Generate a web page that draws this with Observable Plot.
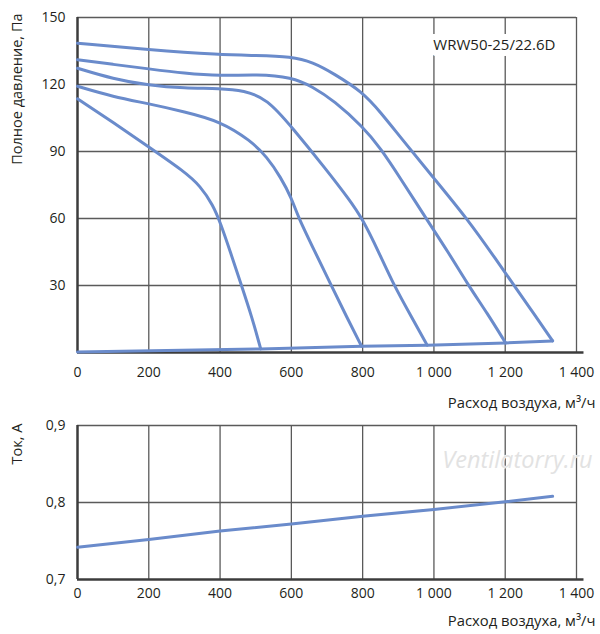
<!DOCTYPE html>
<html>
<head>
<meta charset="utf-8">
<script src="https://cdn.jsdelivr.net/npm/d3@7"></script>
<script src="https://cdn.jsdelivr.net/npm/@observablehq/plot@0.6"></script>
<style>
  html, body { margin: 0; padding: 0; background: #fff; }
  #wrap { position: relative; width: 600px; height: 634px; font-family: "Open Sans", sans-serif; }
  #chartTop, #chartBottom { position: absolute; left: 0; }
  #chartTop { top: 0; }
  #chartBottom { top: 412px; }
</style>
</head>
<body>
<div id="wrap"><div id="chartTop"></div><div id="chartBottom"></div></div>
<script>
// ---- data ----
const xTicks = [0, 200, 400, 600, 800, 1000, 1200, 1400];
const pTicks = [30, 60, 90, 120, 150];
const iTicks = [0.7, 0.8, 0.9];

const q1 = [0, 100, 200, 300, 345, 380, 400, 430, 460, 490, 514];
const p1 = [113.6, 103, 92, 81, 74.5, 66, 58.5, 44.5, 30, 15.5, 1.6];

const q2 = [0, 100, 200, 300, 400, 485, 532, 570, 601, 618, 665, 712, 755, 797];
const p2 = [119.2, 114.5, 111.4, 107.8, 103.6, 95, 87.5, 78.5, 69, 61, 45.5, 30, 16, 2.8];

const q3 = [0, 100, 200, 300, 400, 467, 532, 601, 700, 760, 800, 845, 888, 935, 981];
const p3 = [127.3, 122.5, 119.6, 118.3, 118.3, 117.3, 113.6, 101, 81.5, 69, 59.8, 45, 30, 16.5, 3.3];

const q4 = [0, 100, 200, 300, 400, 504, 601, 660, 719, 802, 850, 906, 978, 1040, 1097, 1150, 1201];
const p4 = [131.1, 129, 127, 125, 123.8, 124.6, 123.3, 119, 112.8, 100.9, 91.5, 78, 60, 45, 30, 17.5, 4.3];

const q5 = [0, 200, 400, 500, 600, 660, 720, 800, 850, 906, 1000, 1093, 1177, 1225, 1280, 1333];
const p5 = [138.5, 135.5, 133.3, 133, 132.5, 130, 124.8, 116.6, 107.6, 96.4, 78, 60, 41, 30, 17.5, 5.2];

const qSys = [0, 514, 797, 981, 1201, 1333];
const pSys = [0.2, 1.6, 2.8, 3.3, 4.3, 5.2];

const qI = [0, 200, 400, 600, 800, 1000, 1200, 1333];
const iVals = [0.742, 0.752, 0.763, 0.772, 0.782, 0.791, 0.801, 0.808];

const modelName = "WRW50-25/22.6D";
const xTitle = "Расход воздуха, м³/ч";
const pTitle = "Полное давление, Па";
const iTitle = "Ток, А";
const watermark = "Ventilatorry.ru";

// ---- helpers ----
const blue = "#6a8bcb";
const gridColor = "#5a5a5a";
const axisColor = "#3c3c3c";
const textColor = "#231f20";
const xMax = 1400;
const fmtX = d => d >= 1000 ? d3.format(",")(d).replace(",", " ") : String(d);
const fmtI = d => d.toFixed(1).replace(".", ",");
const toRows = (qs, vs, id) => qs.map((q, i) => ({q, v: vs[i], id}));

const fanRows = [
  ...toRows(q1, p1, "1"), ...toRows(q2, p2, "2"), ...toRows(q3, p3, "3"),
  ...toRows(q4, p4, "4"), ...toRows(q5, p5, "5")
];
const sysRows = toRows(qSys, pSys, "sys");
const curRows = toRows(qI, iVals, "i");

const baseStyle = {fontFamily: "'Open Sans', sans-serif", fontSize: "14px", color: textColor, background: "transparent", overflow: "visible"};

// ---- top chart ----
const pressurePlot = Plot.plot({
  width: 600, height: 412,
  marginLeft: 77, marginRight: 24, marginTop: 17, marginBottom: 60,
  style: baseStyle,
  x: {domain: [0, xMax]},
  y: {domain: [0, 150]},
  marks: [
    Plot.gridX(xTicks.slice(1), {stroke: gridColor, strokeOpacity: 1, strokeWidth: 1.3}),
    Plot.gridY(pTicks, {stroke: gridColor, strokeOpacity: 1, strokeWidth: 1.3}),
    Plot.text([modelName], {frameAnchor: "top-right", dx: -21, dy: 28, textAnchor: "end", lineAnchor: "middle",
      fill: textColor, stroke: "white", strokeWidth: 12, fontSize: 15, paintOrder: "stroke"}),
    Plot.ruleX([0], {stroke: axisColor, strokeWidth: 2.5}),
    Plot.ruleY([0], {x1: 0, x2: xMax * 1.015, stroke: axisColor, strokeWidth: 2.5}),
    Plot.axisX(xTicks, {tickSize: 0, tickPadding: 15, tickFormat: fmtX, label: null, fontSize: 14}),
    Plot.axisY(pTicks, {tickSize: 0, tickPadding: 12, label: null, fontSize: 14}),
    Plot.line(sysRows, {x: "q", y: "v", stroke: blue, strokeWidth: 3}),
    Plot.line(fanRows, {x: "q", y: "v", z: "id", stroke: blue, strokeWidth: 3, curve: "basis"}),
    Plot.text([xTitle], {frameAnchor: "bottom-right", dx: 19, dy: 51, textAnchor: "end", lineAnchor: "middle", fill: textColor, fontSize: 14.8}),
    Plot.text([pTitle], {frameAnchor: "top-left", dx: -60, dy: -4, rotate: -90, textAnchor: "end", lineAnchor: "middle", fill: textColor, fontSize: 14.5})
  ]
});
document.getElementById("chartTop").appendChild(pressurePlot);

// ---- bottom chart ----
const currentPlot = Plot.plot({
  width: 600, height: 222,
  marginLeft: 77, marginRight: 24, marginTop: 13, marginBottom: 55,
  style: baseStyle,
  x: {domain: [0, xMax]},
  y: {domain: [0.7, 0.9]},
  marks: [
    Plot.gridX(xTicks.slice(1), {stroke: gridColor, strokeOpacity: 1, strokeWidth: 1.3}),
    Plot.gridY(iTicks.slice(1), {stroke: gridColor, strokeOpacity: 1, strokeWidth: 1.3}),
    Plot.text([watermark], {frameAnchor: "top-right", dx: 16, dy: 35, textAnchor: "end", lineAnchor: "middle",
      fill: "#e2e2e2", stroke: "white", strokeWidth: 1, fontSize: 23.5, fontStyle: "italic"}),
    Plot.ruleX([0], {stroke: axisColor, strokeWidth: 2.5}),
    Plot.ruleY([0.7], {x1: 0, x2: xMax * 1.015, stroke: axisColor, strokeWidth: 2.5}),
    Plot.axisX(xTicks, {tickSize: 0, tickPadding: 9, tickFormat: fmtX, label: null, fontSize: 14}),
    Plot.axisY(iTicks, {tickSize: 0, tickPadding: 12, tickFormat: fmtI, label: null, fontSize: 14}),
    Plot.line(curRows, {x: "q", y: "v", stroke: blue, strokeWidth: 3}),
    Plot.text([xTitle], {frameAnchor: "bottom-right", dx: 19, dy: 42, textAnchor: "end", lineAnchor: "middle", fill: textColor, fontSize: 14.8}),
    Plot.text([iTitle], {frameAnchor: "top-left", dx: -60, dy: -2, rotate: -90, textAnchor: "end", lineAnchor: "middle", fill: textColor, fontSize: 14.5})
  ]
});
document.getElementById("chartBottom").appendChild(currentPlot);
</script>
</body>
</html>
